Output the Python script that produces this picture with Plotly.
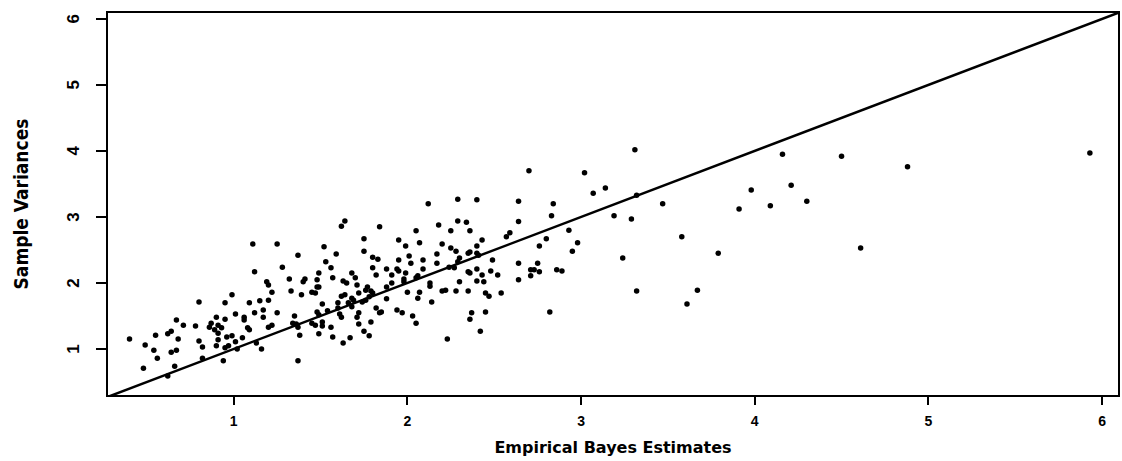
import plotly.graph_objects as go

# Empirical Bayes estimates (x) and sample variances (y), grouped by region
eb_left = [1.11, 1.25, 1.12, 1.19, 1.20, 1.22, 0.99, 0.80, 0.95, 1.09,
           1.15, 1.20, 1.25, 1.17, 1.12, 1.01, 0.90, 0.95, 1.06, 1.06,
           1.17, 0.87, 0.91, 0.89, 0.91, 0.93, 0.86, 0.67, 0.71, 0.78,
           0.64, 0.62, 0.55, 0.68, 0.40, 0.49, 0.54, 0.64, 0.67, 0.56,
           0.48, 0.66, 0.62, 0.80, 0.82, 0.82, 0.90, 0.94, 0.95, 0.97,
           1.01, 1.02, 1.05, 1.09, 1.08, 1.13, 1.16, 1.20, 1.22, 0.96,
           0.99, 0.91]
sv_left = [2.59, 2.59, 2.17, 2.02, 1.97, 1.86, 1.82, 1.71, 1.70, 1.70,
           1.73, 1.74, 1.55, 1.59, 1.55, 1.53, 1.48, 1.45, 1.48, 1.44,
           1.48, 1.39, 1.36, 1.29, 1.24, 1.32, 1.33, 1.44, 1.36, 1.35,
           1.27, 1.23, 1.21, 1.15, 1.15, 1.06, 0.98, 0.95, 0.98, 0.86,
           0.71, 0.74, 0.59, 1.12, 1.03, 0.86, 1.05, 0.82, 1.02, 1.05,
           1.11, 1.00, 1.17, 1.29, 1.32, 1.09, 1.00, 1.33, 1.36, 1.18,
           1.20, 1.14]

eb_mid = [2.12, 1.62, 1.64, 1.84, 2.05, 2.18, 1.75, 1.95, 1.99, 2.07,
          2.20, 1.52, 1.75, 1.37, 1.59, 1.80, 1.83, 2.01, 1.95, 2.09,
          2.17, 1.53, 2.17, 2.02, 1.28, 1.56, 1.80, 1.88, 1.94, 1.95,
          2.09, 1.49, 1.68, 1.82, 1.91, 1.99, 1.32, 1.41, 1.40, 1.48,
          1.57, 1.63, 1.65, 1.70, 1.71, 1.77, 1.76, 1.88, 1.91, 1.98,
          1.98, 2.05, 2.06, 2.13, 2.13, 2.22, 2.20, 1.33, 1.39, 1.45,
          1.47, 1.48, 1.49, 1.62, 1.64, 1.68, 1.72, 1.79, 1.80, 1.88,
          2.00, 2.06, 2.07, 2.14, 1.51, 1.60, 1.60, 1.66, 1.68, 1.69,
          1.74, 1.76, 1.78, 1.82, 1.84, 1.85, 1.94, 1.97, 2.03, 2.05,
          1.35, 1.48, 1.49, 1.54, 1.62, 1.61, 1.72, 1.71, 1.79, 1.72,
          1.34, 1.36, 1.37, 1.45, 1.47, 1.51, 1.51, 1.56, 1.75, 1.38,
          1.49, 1.57, 1.63, 1.67, 1.78, 2.23, 1.37]
sv_mid = [3.20, 2.86, 2.94, 2.85, 2.79, 2.88, 2.67, 2.65, 2.56, 2.61,
          2.59, 2.55, 2.48, 2.42, 2.44, 2.39, 2.36, 2.41, 2.35, 2.35,
          2.44, 2.32, 2.30, 2.30, 2.24, 2.23, 2.23, 2.21, 2.21, 2.18,
          2.21, 2.15, 2.15, 2.12, 2.12, 2.15, 2.06, 2.06, 2.02, 2.05,
          2.08, 2.03, 2.00, 2.08, 1.97, 1.94, 1.89, 1.94, 2.00, 2.06,
          2.02, 2.08, 2.11, 2.00, 1.95, 1.89, 1.88, 1.88, 1.82, 1.86,
          1.85, 1.94, 1.94, 1.80, 1.82, 1.77, 1.85, 1.88, 1.85, 1.76,
          1.86, 1.77, 1.86, 1.71, 1.68, 1.70, 1.62, 1.70, 1.64, 1.74,
          1.71, 1.74, 1.79, 1.62, 1.55, 1.56, 1.59, 1.55, 1.50, 1.39,
          1.50, 1.56, 1.52, 1.58, 1.48, 1.53, 1.55, 1.48, 1.41, 1.38,
          1.39, 1.38, 1.33, 1.39, 1.36, 1.35, 1.41, 1.33, 1.27, 1.21,
          1.23, 1.18, 1.09, 1.17, 1.20, 1.15, 0.82]

eb_upper = [2.70, 3.02, 3.07, 3.14, 2.29, 2.40, 2.64, 2.84, 2.83, 2.64,
            2.29, 2.34, 2.36, 2.25, 2.59, 2.57, 2.93, 2.43, 2.40, 2.80,
            2.76, 2.98, 2.95, 2.25, 2.28, 2.36, 2.35, 2.40, 2.41, 2.30,
            2.29, 2.24, 2.27, 2.49, 2.64, 2.75, 2.71, 2.73, 2.76, 2.71,
            2.86, 2.89, 2.40, 2.48, 2.52, 2.36, 2.35, 2.43, 2.40, 2.44,
            2.30, 2.64, 2.28, 2.35, 2.45, 2.47, 2.54, 2.37, 2.36, 2.45,
            2.82, 2.42]
sv_upper = [3.70, 3.67, 3.36, 3.44, 3.27, 3.26, 3.24, 3.20, 3.02, 2.93,
            2.94, 2.92, 2.79, 2.79, 2.76, 2.70, 2.80, 2.65, 2.56, 2.67,
            2.56, 2.61, 2.48, 2.53, 2.48, 2.47, 2.45, 2.45, 2.42, 2.38,
            2.32, 2.24, 2.23, 2.35, 2.30, 2.30, 2.20, 2.20, 2.17, 2.11,
            2.20, 2.18, 2.21, 2.18, 2.12, 2.15, 2.17, 2.12, 2.03, 2.02,
            2.02, 2.05, 1.88, 1.88, 1.85, 1.80, 1.85, 1.55, 1.45, 1.56,
            1.56, 1.27]

eb_right = [3.31, 4.16, 4.50, 3.19, 3.29, 3.32, 3.47, 3.98, 4.21, 3.91,
            4.09, 4.30, 3.58, 3.24, 3.79, 4.61, 3.32, 3.67, 3.61, 4.88,
            5.93]
sv_right = [4.02, 3.95, 3.92, 3.02, 2.97, 3.33, 3.20, 3.41, 3.48, 3.12,
            3.17, 3.24, 2.70, 2.38, 2.45, 2.53, 1.88, 1.89, 1.68, 3.76,
            3.97]

# reference line y = x
identity_line = [0.0, 6.5]
tick_values = [1, 2, 3, 4, 5, 6]
tick_labels = ["1", "2", "3", "4", "5", "6"]
x_title = "Empirical Bayes Estimates"
y_title = "Sample Variances"

eb = eb_left + eb_mid + eb_upper + eb_right
sv = sv_left + sv_mid + sv_upper + sv_right

fig = go.Figure()
fig.add_trace(go.Scatter(x=eb, y=sv, mode="markers",
                         marker=dict(color="black", size=5.5, line=dict(width=0)),
                         hoverinfo="skip", showlegend=False))
fig.add_trace(go.Scatter(x=identity_line, y=identity_line, mode="lines",
                         line=dict(color="black", width=2.5),
                         hoverinfo="skip", showlegend=False))

axis_common = dict(showgrid=False, zeroline=False, showline=True, mirror=True,
                   linecolor="black", linewidth=2, ticks="outside", tickcolor="black",
                   tickwidth=1.5, tickvals=tick_values, ticktext=tick_labels)

# rotated y tick labels, placed at the tick values on the y axis
for v, lab in zip(tick_values, tick_labels):
    fig.add_annotation(x=-0.034, xref="paper", y=v, yref="y", text=lab, showarrow=False,
                       textangle=-90, xanchor="center", yanchor="middle",
                       font=dict(family="Liberation Sans, Arial, sans-serif", size=17,
                                 color="black", weight="bold"))

fig.update_layout(
    width=1122, height=461,
    margin=dict(l=108, r=2, t=13, b=66),
    paper_bgcolor="white", plot_bgcolor="white",
    xaxis=dict(range=[0.276, 6.092], ticklen=8, ticklabelstandoff=4,
               tickfont=dict(family="Liberation Sans, Arial, sans-serif", size=14,
                             color="black", weight="bold"),
               title=dict(text=x_title, standoff=14,
                          font=dict(family="DejaVu Sans, sans-serif", size=16,
                                    color="black", weight="bold")),
               **axis_common),
    yaxis=dict(range=[0.303, 6.09], ticklen=10, showticklabels=False,
               title=dict(text=y_title, standoff=62,
                          font=dict(family="Liberation Sans Narrow, DejaVu Sans Condensed, sans-serif",
                                    size=19, color="black", weight="bold")),
               **axis_common),
)

fig.write_html("out.html")
